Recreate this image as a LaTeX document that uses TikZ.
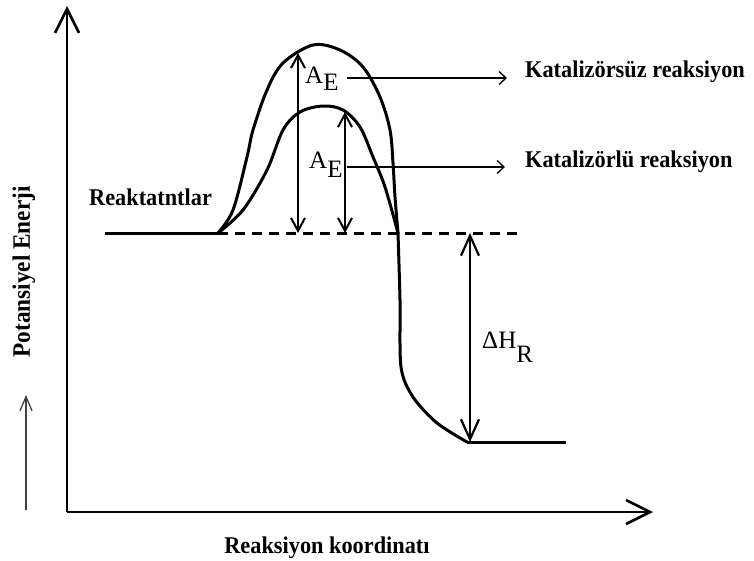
\documentclass[tikz,border=0pt]{standalone}
\usepackage{fontspec}
\setmainfont{Liberation Serif}
\newfontfamily\lblfont{Liberation Serif}[FakeStretch=0.93]
\usetikzlibrary{arrows.meta}
\begin{document}
\begin{tikzpicture}[x=1pt,y=-1pt,
  lbl/.style={font=\lblfont\fontsize{24}{26}\selectfont\bfseries, inner sep=0pt, anchor=base west},
  sym/.style={font=\fontsize{25}{27}\selectfont, inner sep=0pt, anchor=base west},
  axisline/.style={line width=2.6pt, -{Straight Barb[length=24pt,width=24pt,line width=2.6pt]}},
  curveline/.style={line width=3pt, line join=round, line cap=round},
  dbl/.style={line width=2pt, {Straight Barb[length=13pt,width=14pt,line width=2pt]}-{Straight Barb[length=13pt,width=14pt,line width=2pt]}},
  dblbig/.style={line width=2.2pt, {Straight Barb[length=20pt,width=18pt,line width=2.2pt]}-{Straight Barb[length=20pt,width=18pt,line width=2.2pt]}},
  pointer/.style={line width=1.3pt, -{Straight Barb[length=7pt,width=13pt,line width=1.3pt]}},
]
\useasboundingbox (0,0) rectangle (754,560);
% axes
\coordinate (O) at (67,512);
\coordinate (Ytop) at (67,6);
\coordinate (Xend) at (653,512);
\draw[axisline] (O) -- (Ytop);
\draw[axisline] (O) -- (Xend);
% small arrow on the left
\coordinate (s1) at (26,510);
\coordinate (s2) at (26,395);
\draw[line width=1.3pt, black!75, -{Straight Barb[length=14pt,width=12pt,line width=1.3pt]}] (s1) -- (s2);
\node[lbl, anchor=center, rotate=90, font=\lblfont\fontsize{25}{26}\selectfont\bfseries] (ylab) at (24,272) {Potansiyel Enerji};
\node[lbl, anchor=base] (xlab) at (327,553) {Reaksiyon koordinatı};
% reactant level
\coordinate (Rs) at (105,233);
\coordinate (R0) at (218,233);
\coordinate (Rd) at (522,233);
\draw[line width=3pt] (Rs) -- (R0);
\draw[line width=3pt, dash pattern=on 10pt off 7pt] (R0) -- (Rd);
\node[lbl] (reak) at (89,205) {Reaktatntlar};
% humps
\draw[curveline] plot[smooth, tension=0.55] coordinates {(218,233) (233,210) (247,157) (253,130) (267,90) (283,63) (313,45) (340,50) (363,67) (380,97) (390,130) (393,163) (395,197) (398,233)};
\draw[curveline] plot[smooth, tension=0.55] coordinates {(218,233) (243,210) (267,170) (283,130) (300,112) (323,106) (343,110) (360,127) (373,157) (385,187) (398,233)};
% descent to products
\coordinate (P0) at (467,442);
\coordinate (P1) at (566,442);
\draw[curveline] plot[smooth, tension=0.5] coordinates {(398,233) (400,300) (401,367) (413,397) (437,423) (467,442)};
\draw[line width=3pt] (P0) -- (P1);
% activation energy arrows
\coordinate (a1b) at (298,233);
\coordinate (a1t) at (298,53);
\coordinate (a2b) at (345,233);
\coordinate (a2t) at (345,112);
\draw[dbl] (a1b) -- (a1t);
\draw[dbl] (a2b) -- (a2t);
\node[sym] (AE1) at (305,83) {A\raisebox{-7pt}{E}};
\node[sym] (AE2) at (309,168) {A\raisebox{-9pt}{E}};
% enthalpy arrow
\coordinate (h1) at (470,233);
\coordinate (h2) at (470,442);
\draw[dblbig] (h1) -- (h2);
\node[sym] (DH) at (482,348) {ΔH\raisebox{-14pt}{R}};
% pointers to labels
\coordinate (p1s) at (347,78);
\coordinate (p1e) at (507,78);
\coordinate (p2s) at (347,167);
\coordinate (p2e) at (505,167);
\draw[pointer] (p1s) -- (p1e);
\draw[pointer] (p2s) -- (p2e);
\node[lbl] (kat1) at (525,77) {Katalizörsüz reaksiyon};
\node[lbl] (kat2) at (525,167) {Katalizörlü reaksiyon};
\end{tikzpicture}
\end{document}
